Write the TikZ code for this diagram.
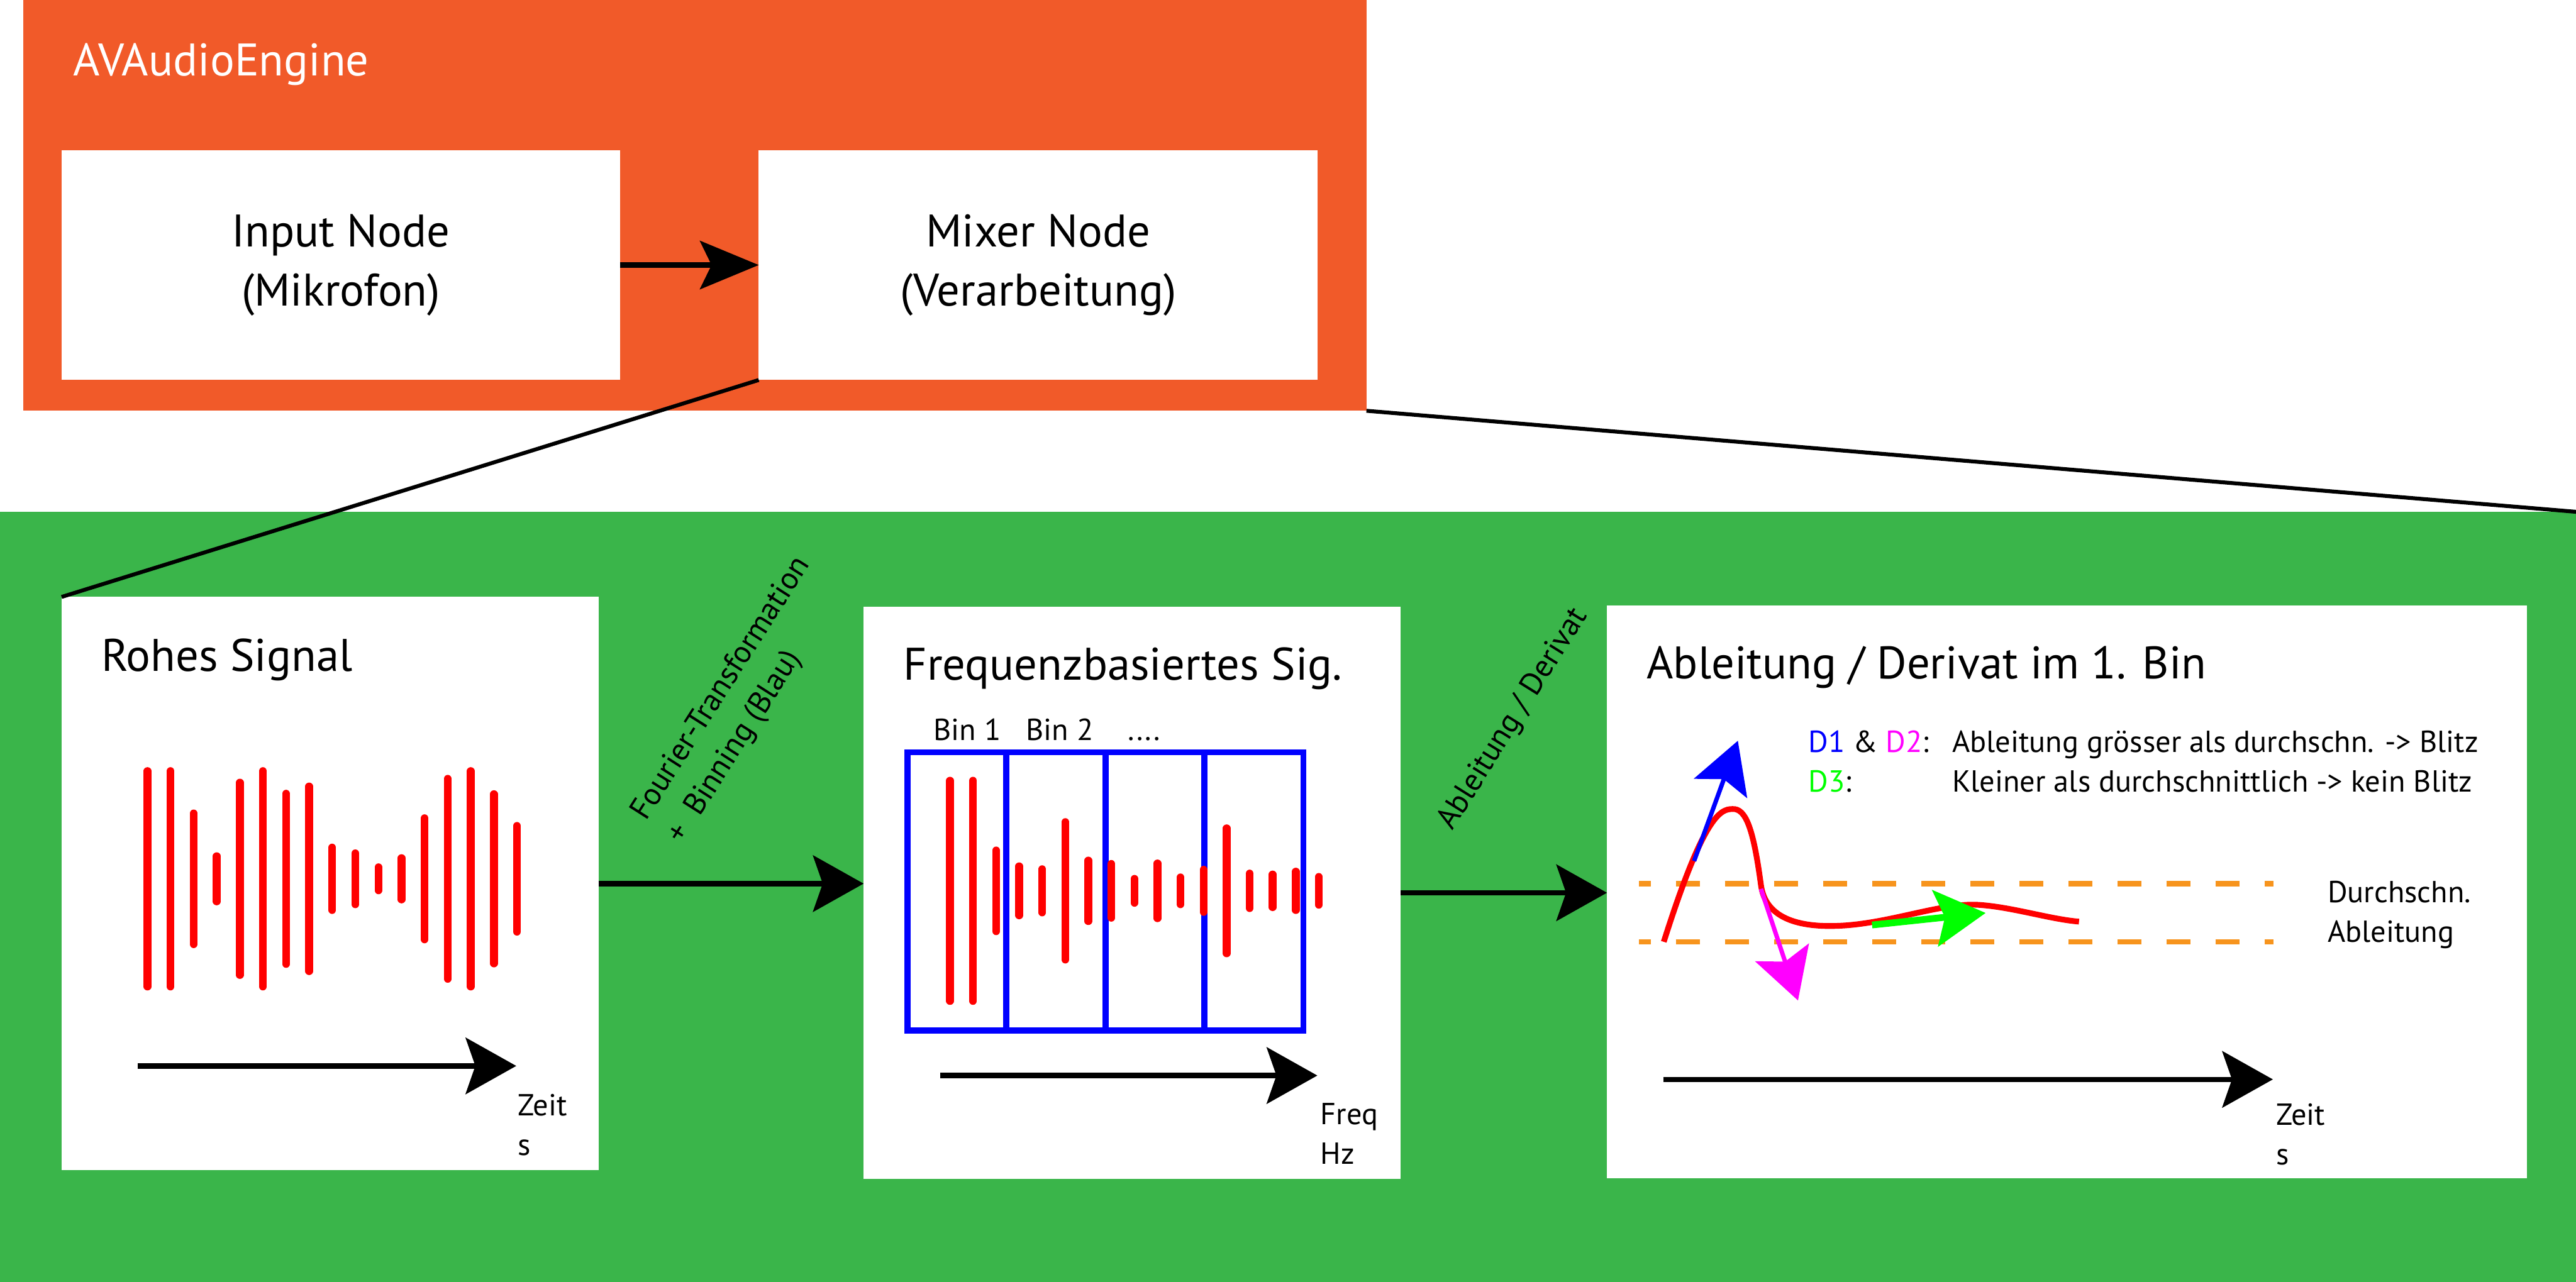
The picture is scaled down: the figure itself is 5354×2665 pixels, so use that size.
\documentclass[tikz,border=0pt]{standalone}
\usepackage{fontspec}
\setmainfont{PT Sans}
\usepackage{tikz}
\usetikzlibrary{
  	arrows.meta,
  	calc
  }
\definecolor{engineorange}{RGB}{241,90,41}
\definecolor{pipegreen}{RGB}{58,181,74}
\definecolor{meanorange}{RGB}{247,148,29}
\definecolor{dblue}{RGB}{0,0,255}
\definecolor{dmagenta}{RGB}{255,0,255}
\definecolor{dgreen}{RGB}{0,255,0}
\tikzstyle{panel}=[inner sep=0pt,outer sep=0pt,anchor=north west]
\tikzstyle{card}=[fill=white,inner sep=0pt,outer sep=0pt,anchor=north west]
\tikzstyle{bigtxt}=[font=\fontsize{27pt}{35pt}\selectfont,inner sep=0pt]
\tikzstyle{smalltxt}=[font=\fontsize{18pt}{23.5pt}\selectfont,inner sep=0pt,align=left]
\tikzstyle{slanttxt}=[font=\fontsize{18.5pt}{25.3pt}\selectfont,inner sep=0pt,align=left]
\tikzstyle{flow}=[line width=3.1pt,-{Stealth[length=29.9pt,width=33.3pt,inset=5.7pt]}]
\tikzstyle{slope}=[-{Stealth[length=29.9pt,width=33.3pt,inset=5.7pt]}]
\tikzstyle{sigbar}=[red,line width=4.6pt,line cap=round]
\tikzstyle{zoomline}=[line width=2.3pt]
\tikzstyle{meanline}=[meanorange,line width=3.3pt,dash pattern=on 5mm off 5.2mm,dash phase=2.6mm]

\begin{document}
\begin{tikzpicture}[x=0.1mm,y=-0.1mm]
    \useasboundingbox (0,0) rectangle (5354,2665);
    \fill[white] (0,0) rectangle (5354,2665);
    \node[panel,fill=engineorange,minimum width=279.2mm,minimum height=85.4mm] (engine) at (48,0) {};
    \node[bigtxt,text=white,anchor=base west] (enginetitle) at ($(engine.north west)+(104,158)$) {AVAudioEngine};
    \node[card,bigtxt,align=center,minimum width=116.1mm,minimum height=47.8mm] (input) at (128,312) {Input Node\\(Mikrofon)};
    \path (input.north east)++(288,0) node[card,bigtxt,align=center,minimum width=116.2mm,minimum height=47.8mm] (mixer) {Mixer Node\\(Verarbeitung)};
    \draw[line width=3.4pt,-{Stealth[length=34.7pt,width=28.5pt,inset=6.8pt]}] (input) -- (mixer);
    \node[panel,fill=pipegreen,minimum width=535.4mm,minimum height=160.1mm] (pipeline) at (0,1064) {};
    \node[card,minimum width=111.6mm,minimum height=119.2mm] (rohes) at (128,1241) {};
    \path (rohes.north east)++(551,20) node[card,minimum width=111.6mm,minimum height=119mm] (freq) {};
    \path (freq.north east)++(429,-2) node[card,minimum width=191.2mm,minimum height=119mm] (abl) {};
    \draw[zoomline] (mixer.south west) -- (rohes.north west);
    \draw[zoomline] (engine.south east) -- (pipeline.north east);
    \coordinate (fftend) at (rohes.east -| freq.west);
    \draw[flow] (rohes.east) -- (fftend);
    \node[slanttxt,rotate=57.5] (fftlabel) at ($(rohes.east)!.5!(fftend)+(18,-381)$) {Fourier-Transformation\\+\ \ Binning (Blau)};
    \coordinate (derivend) at (freq.east -| abl.west);
    \draw[flow] (freq.east) -- (derivend);
    \node[slanttxt,rotate=58] (derivlabel) at ($(freq.east)!.5!(derivend)+(20,-361)$) {Ableitung / Derivat};
    \begin{scope}[shift={(rohes.north west)}]
      \node[bigtxt,anchor=base west] (rohestitle) at (82,155) {Rohes Signal};
      \foreach \h [count=\i] in {224,224,136,47,200,224,177,192,65,53,24,43,126,208,224,176,110}
        \draw[sigbar] (130.5+48*\i,586-\h) -- (130.5+48*\i,586+\h);
      \draw[flow] (158,975) -- (945,975);
      \node[smalltxt,anchor=base west] (rohesaxis) at (948,1161) {Zeit\\s};
    \end{scope}
    \begin{scope}[shift={(freq.north west)}]
      \node[bigtxt,anchor=base west] (freqtitle) at (82,153) {Frequenzbasiertes Sig.};
      \node[draw=dblue,line width=3.7pt,inner sep=0pt,outer sep=0pt,anchor=north west,minimum width=82.3mm,minimum height=57.8mm] (bins) at (91,303) {};
      \foreach \k in {1,2,3}
        \draw[dblue,line width=3.7pt] ($(bins.north west)!\k/4!(bins.north east)$) -- ($(bins.south west)!\k/4!(bins.south east)$);
      \node[smalltxt,anchor=base west] (binone) at (145,278) {Bin 1};
      \node[smalltxt,anchor=base west] (bintwo) at (337,278) {Bin 2};
      \node[smalltxt,anchor=base west] (binmore) at (549,278) {....};
      \foreach \h [count=\i] in {229,229,84,51,45,143,63,56,25,57,28,44,130,36,34,40,29}
        \draw[sigbar] (131.7+47.9*\i,591-\h) -- (131.7+47.9*\i,591+\h);
      \draw[flow] (159,975) -- (943,975);
      \node[smalltxt,anchor=base west] (freqaxis) at (949,1159) {Freq\\Hz};
    \end{scope}
    \begin{scope}[shift={(abl.north west)}]
      \node[bigtxt,anchor=base west] (abltitle) at (82,152) {Ableitung / Derivat im 1. Bin};
      \node[smalltxt,anchor=base west] (legendkey) at (418,387) {\textcolor{dblue}{D1} \& \textcolor{dmagenta}{D2}:\\\textcolor{dgreen}{D3}:};
      \node[smalltxt,anchor=base west] (legendtext) at (717,387) {Ableitung grösser als durchschn. -> Blitz\\Kleiner als durchschnittlich -> kein Blitz};
      \draw[meanline] (67,578.5) -- (1385,578.5);
      \draw[meanline] (67,699) -- (1385,699);
      \node[smalltxt,anchor=base west] (meanlabel) at (1497,700) {Durchschn.\\Ableitung};
      \draw[red,line width=3.4pt] (118,699) .. controls (200,440) and (235,423) .. (260,423)
        .. controls (290,420) and (305,470) .. (320,581)
        .. controls (328,640) and (380,668) .. (472,666)
        .. controls (580,664) and (690,618) .. (770,622)
        .. controls (840,626) and (920,652) .. (981,657);
      \draw[slope,dblue,line width=2.6pt] (181,531) -- (272,281);
      \draw[slope,dmagenta,line width=2.6pt] (320,589) -- (397,821);
      \draw[slope,dgreen,line width=4pt] (551,664) -- (787,639);
      \draw[flow] (117,985) -- (1384,985);
      \node[smalltxt,anchor=base west] (ablaxis) at (1390,1163) {Zeit\\s};
    \end{scope}
\end{tikzpicture}
\end{document}
